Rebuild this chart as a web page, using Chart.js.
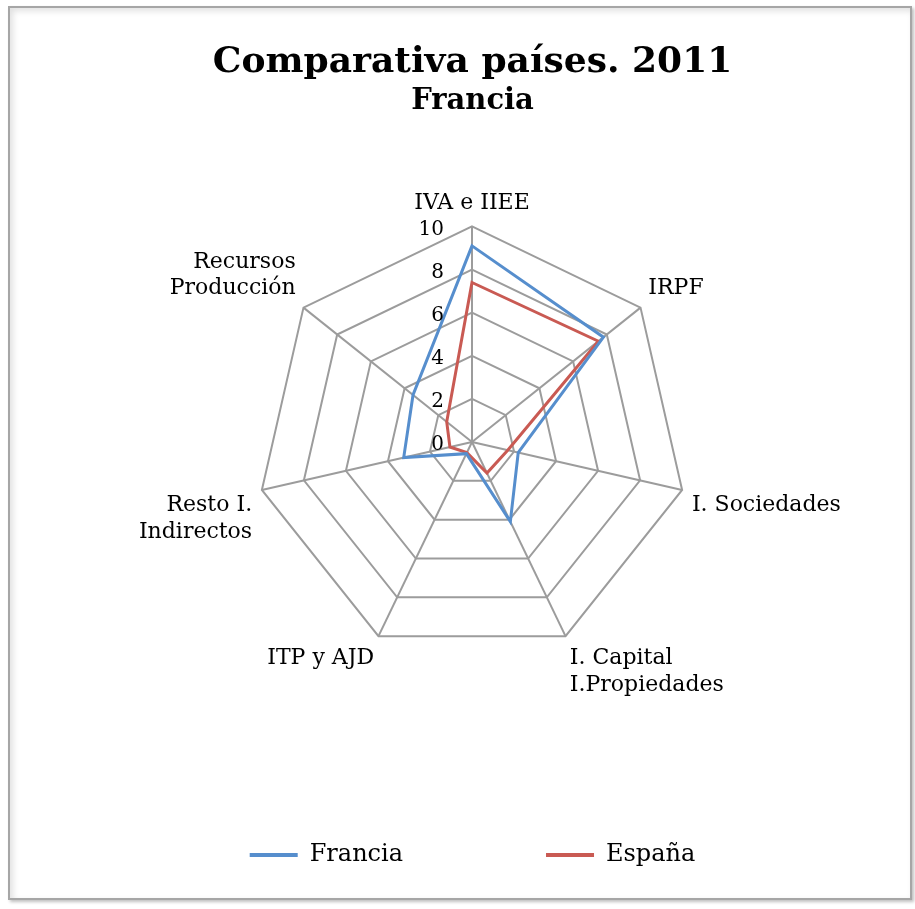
<!DOCTYPE html>
<html>
    <head>
        <title>Comparativa paises 2011</title>
        <script src="https://cdn.jsdelivr.net/npm/chart.js@4.4.0/dist/chart.umd.min.js"></script>
        <style>
            body { margin: 0; background: #ffffff; }
            #frame {
                position: absolute; left: 8px; top: 6px; width: 900px; height: 890px;
                border: 2px solid #a6a6a6;
                box-shadow: inset 3px 3px 6px rgba(0,0,0,0.12), 2px 2px 3px rgba(0,0,0,0.25);
                background: #ffffff;
            }
        </style>
    </head>
    <body>
        <div id="frame">
            <canvas id="chartcanvas"></canvas>
        </div>

        <script>
            // data
            const categories = ['IVA e IIEE', 'IRPF', 'I. Sociedades', ['I. Capital', 'I.Propiedades'], 'ITP y AJD', ['Resto I.', 'Indirectos'], ['Recursos', 'Producción']];
            const francia = [9.1, 7.8, 2.2, 4.1, 0.6, 3.25, 3.5];
            const espana  = [7.4, 7.5, 1.7, 1.6, 0.55, 1.05, 1.5];
            const tickValues = [0, 2, 4, 6, 8, 10];

            const serif = 'DejaVu Serif';

            // tick labels sit to the left of the vertical axis, like the original
            const tickLabelPlugin = {
                id: 'leftTicks',
                afterDatasetsDraw(chart) {
                    const r = chart.scales.r;
                    const c = chart.ctx;
                    c.save();
                    c.font = '20px "' + serif + '"';
                    c.fillStyle = '#000';
                    c.textAlign = 'right';
                    c.textBaseline = 'middle';
                    tickValues.forEach(v => {
                        const d = r.getDistanceFromCenterForValue(v);
                        c.fillText(String(v), r.xCenter - 28, r.yCenter - d + 3);
                    });
                    c.restore();
                }
            };

            const ctx = document.getElementById('chartcanvas');

            var chart = new Chart(ctx, {
                type: 'radar',
                data: {
                    labels: categories,
                    datasets: [{
                        label: 'Francia',
                        data: francia,
                        borderColor: '#568ecd',
                        backgroundColor: '#568ecd',
                        borderWidth: 3,
                        fill: false,
                        pointRadius: 0
                    },
                    {
                        label: 'España',
                        data: espana,
                        borderColor: '#c95a53',
                        backgroundColor: '#c95a53',
                        borderWidth: 3,
                        fill: false,
                        pointRadius: 0
                    }]
                },
                options: {
                    responsive: true,
                    maintainAspectRatio: false,
                    animation: false,
                    layout: { padding: { left: 25, right: 0, top: 0, bottom: 21 } },
                    scales: {
                        r: {
                            min: 0,
                            max: 10,
                            ticks: { stepSize: 2, display: false },
                            grid: { color: '#9c9c9c', lineWidth: 2 },
                            angleLines: { color: '#9c9c9c', lineWidth: 2 },
                            pointLabels: {
                                color: '#000',
                                padding: 10,
                                font: { family: serif, size: 22 }
                            }
                        }
                    },
                    plugins: {
                        title: {
                            display: true,
                            text: 'Comparativa países. 2011',
                            color: '#000',
                            font: { family: serif, size: 36, weight: 'bold' },
                            padding: { top: 33, bottom: 0 }
                        },
                        subtitle: {
                            display: true,
                            text: 'Francia',
                            color: '#000',
                            font: { family: serif, size: 29, weight: 'bold' },
                            padding: { bottom: 70 }
                        },
                        legend: {
                            position: 'bottom',
                            labels: {
                                color: '#000',
                                font: { family: serif, size: 24 },
                                boxWidth: 48,
                                boxHeight: 4,
                                padding: 143,
                                generateLabels(ch) {
                                    const items = Chart.defaults.plugins.legend.labels.generateLabels(ch);
                                    items.forEach(it => { it.lineWidth = 0; });
                                    return items;
                                }
                            }
                        },
                        tooltip: { enabled: false }
                    }
                },
                plugins: [tickLabelPlugin]
            });
        </script>
    </body>
</html>
